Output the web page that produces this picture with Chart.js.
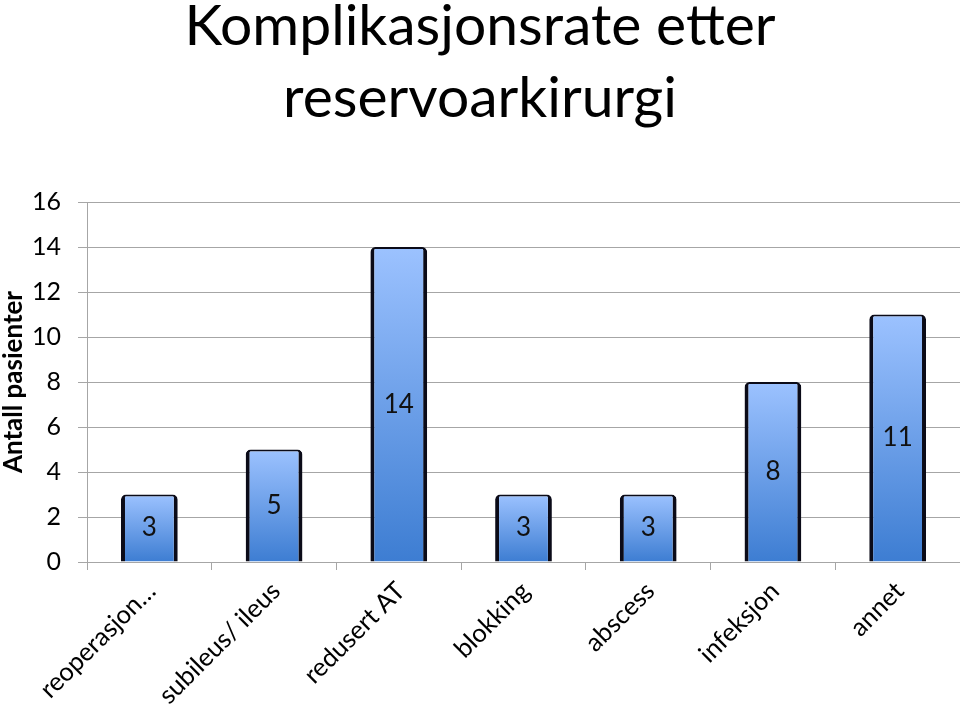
<!DOCTYPE html>
<html>
<head>
<meta charset="utf-8">
<script src="https://cdn.jsdelivr.net/npm/chart.js@4/dist/chart.umd.min.js"></script>
<style>
  html, body { margin: 0; padding: 0; background: #fff; }
  #wrap { width: 960px; height: 711px; }
</style>
</head>
<body>
<div id="wrap"><canvas id="complChart" width="960" height="711"></canvas></div>
<script>
// chart data
const categories = ['reoperasjon…', 'subileus/ ileus', 'redusert AT', 'blokking', 'abscess', 'infeksjon', 'annet'];
const patientCounts = [3, 5, 14, 3, 3, 8, 11];
const yTicks = [0, 2, 4, 6, 8, 10, 12, 14, 16];

const FONT = 'Lato';

// vertical gradient per bar, from its top down to the zero line
function barGradient(context) {
  const chart = context.chart;
  const yScale = chart.scales.y;
  if (!chart.chartArea || !yScale) return '#6a9ee8';
  const top = yScale.getPixelForValue(patientCounts[context.dataIndex]);
  const bottom = yScale.getPixelForValue(0);
  const g = chart.ctx.createLinearGradient(0, top, 0, bottom);
  g.addColorStop(0, '#9cc2ff');
  g.addColorStop(1, '#3d7dd2');
  return g;
}

// value label in the middle of each bar
const centerLabels = {
  id: 'centerLabels',
  afterDatasetsDraw(chart) {
    const ctx = chart.ctx;
    const meta = chart.getDatasetMeta(0);
    ctx.save();
    ctx.font = '26px ' + FONT;
    ctx.fillStyle = '#111';
    ctx.textAlign = 'center';
    ctx.textBaseline = 'middle';
    meta.data.forEach((bar, i) => {
      ctx.fillText(String(patientCounts[i]), bar.x, (bar.y + bar.base) / 2);
    });
    ctx.restore();
  }
};

const ctx = document.getElementById('complChart').getContext('2d');
const complChart = new Chart(ctx, {
  type: 'bar',
  data: {
    labels: categories,
    datasets: [{
      label: 'Antall pasienter',
      data: patientCounts,
      backgroundColor: barGradient,
      borderColor: '#0b0b18',
      borderWidth: { left: 4, right: 4, top: 2, bottom: 0 },
      borderRadius: { topLeft: 5, topRight: 5, bottomLeft: 0, bottomRight: 0 },
      borderSkipped: 'bottom',
      barPercentage: 0.455,
      categoryPercentage: 1
    }]
  },
  options: {
    responsive: false,
    animation: false,
    layout: { padding: 0 },
    plugins: {
      legend: { display: false },
      tooltip: { enabled: false },
      title: {
        display: true,
        text: ['Komplikasjonsrate etter', 'reservoarkirurgi'],
        color: '#000',
        font: { family: FONT, size: 57, weight: 'normal', lineHeight: '72px' },
        padding: { top: -9, bottom: 67 }
      }
    },
    scales: {
      x: {
        grid: { display: true, drawOnChartArea: false, drawTicks: true, tickLength: 8, color: '#a6a6a6', offset: true },
        border: { display: true, color: '#a6a6a6' },
        ticks: {
          color: '#000',
          font: { family: FONT, size: 25.5 },
          maxRotation: 45,
          minRotation: 45,
          autoSkip: false,
          labelOffset: 2,
          padding: 6
        },
        afterFit(scale) { scale.height = 149; }
      },
      y: {
        min: 0,
        max: 16,
        afterBuildTicks(scale) { scale.ticks = yTicks.map(v => ({ value: v })); },
        grid: { color: '#a6a6a6', tickLength: 9 },
        border: { display: true, color: '#a6a6a6' },
        ticks: {
          color: '#000',
          font: { family: FONT, size: 25 },
          padding: 17
        },
        title: {
          display: true,
          text: 'Antall pasienter',
          color: '#000',
          font: { family: FONT, size: 26, weight: 'bold' },
          padding: { top: -2, bottom: 0 }
        },
        afterFit(scale) { scale.width = 87; }
      }
    }
  },
  plugins: [centerLabels]
});
</script>
</body>
</html>
